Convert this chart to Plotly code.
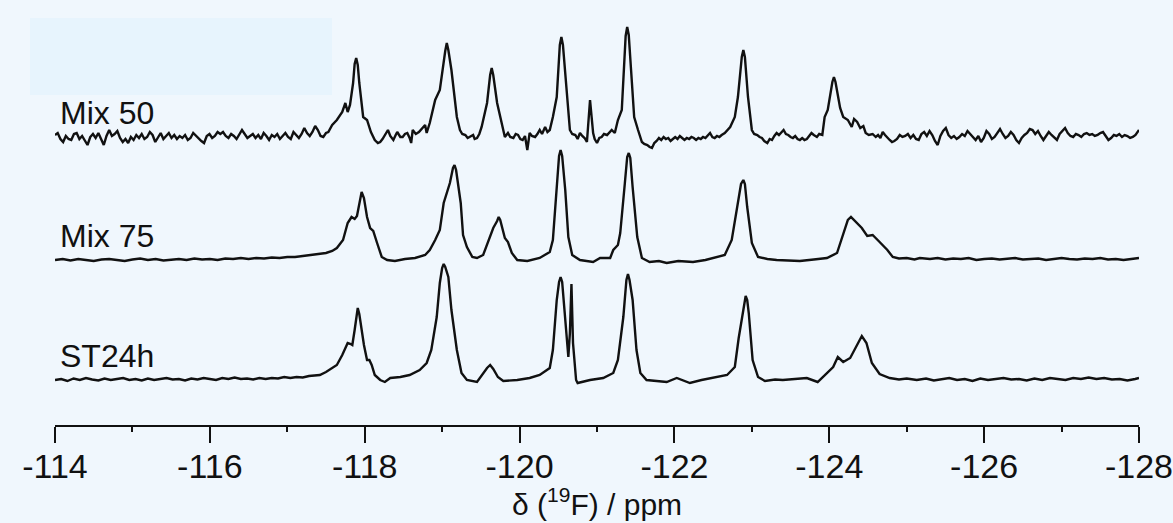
import plotly.graph_objects as go

# ---------------- data (ppm, relative intensity) ----------------
series_names = ["Mix 50", "Mix 75", "ST24h"]
stack_offsets = [288, 165, 45]

mix50 = [
    (-114.000, 2), (-114.035, 4), (-114.070, -2), (-114.105, -5), (-114.140, 1), (-114.175, -2), (-114.210, -3),
    (-114.245, 3), (-114.280, 4), (-114.315, -2), (-114.350, 1), (-114.385, -4), (-114.420, -8), (-114.455, 0),
    (-114.490, 3), (-114.525, -1), (-114.560, 4), (-114.595, -2), (-114.630, -8), (-114.665, 1), (-114.700, 7),
    (-114.735, 1), (-114.770, 3), (-114.805, 6), (-114.840, -1), (-114.875, -5), (-114.910, -2), (-114.945, -6),
    (-114.980, 0), (-115.015, -3), (-115.050, 2), (-115.085, -1), (-115.120, 3), (-115.155, -2), (-115.190, 0),
    (-115.225, 5), (-115.260, 2), (-115.295, -5), (-115.330, 0), (-115.365, 4), (-115.400, -2), (-115.435, 1),
    (-115.470, 4), (-115.505, -1), (-115.540, 2), (-115.575, -2), (-115.610, 1), (-115.645, -1), (-115.680, 2),
    (-115.715, -3), (-115.750, -1), (-115.785, 4), (-115.820, 1), (-115.855, -1), (-115.890, -4), (-115.925, -6),
    (-115.960, 1), (-115.995, 3), (-116.030, -1), (-116.065, 1), (-116.100, 5), (-116.135, 3), (-116.170, 5),
    (-116.205, 1), (-116.240, -1), (-116.275, 3), (-116.310, 1), (-116.345, -2), (-116.380, 2), (-116.415, 7),
    (-116.450, 3), (-116.485, -1), (-116.520, 1), (-116.555, 3), (-116.590, -1), (-116.625, 2), (-116.660, -2),
    (-116.695, 4), (-116.730, 1), (-116.765, -3), (-116.800, 2), (-116.835, 0), (-116.870, 3), (-116.905, -2),
    (-116.940, 1), (-116.975, 4), (-117.010, 0), (-117.045, -2), (-117.080, 5), (-117.115, 2), (-117.150, -1),
    (-117.185, 3), (-117.220, 9), (-117.255, 4), (-117.290, 1), (-117.325, 5), (-117.360, 11), (-117.395, 7),
    (-117.430, 1), (-117.465, 0), (-117.500, 4), (-117.53, 5), (-117.58, 12), (-117.64, 17), (-117.71, 25),
    (-117.75, 34), (-117.78, 25), (-117.81, 32), (-117.85, 54), (-117.87, 73), (-117.89, 79), (-117.91, 72),
    (-117.93, 54), (-117.98, 20), (-118.03, 17), (-118.08, 5), (-118.13, -3), (-118.17, -6), (-118.20, -5),
    (-118.23, -2), (-118.27, 3), (-118.30, 7), (-118.33, 1), (-118.37, -3), (-118.40, 2), (-118.42, 5),
    (-118.46, 0), (-118.49, 0), (-118.52, 3), (-118.55, 4), (-118.58, -1), (-118.60, -6), (-118.62, 7),
    (-118.66, 3), (-118.70, 5), (-118.74, 9), (-118.78, 12), (-118.80, 4), (-118.84, 14), (-118.91, 37),
    (-118.97, 47), (-119.04, 86), (-119.06, 94), (-119.08, 87), (-119.12, 67), (-119.19, 20), (-119.23, 7),
    (-119.26, 3), (-119.30, 2), (-119.33, -1), (-119.36, 0), (-119.40, 2), (-119.42, -2), (-119.45, -1),
    (-119.48, 3), (-119.51, 10), (-119.58, 34), (-119.62, 62), (-119.64, 69), (-119.66, 62), (-119.71, 34),
    (-119.75, 19), (-119.78, 8), (-119.81, 0), (-119.85, 4), (-119.88, 0), (-119.92, -1), (-119.95, 3),
    (-119.98, 2), (-120.01, -2), (-120.04, -3), (-120.07, 1), (-120.10, -13), (-120.13, 4), (-120.16, 1),
    (-120.20, 0), (-120.23, 3), (-120.26, 7), (-120.29, 3), (-120.33, 10), (-120.36, 5), (-120.39, 7),
    (-120.43, 20), (-120.48, 40), (-120.52, 92), (-120.54, 100), (-120.56, 92), (-120.61, 40), (-120.65, 7),
    (-120.68, 3), (-120.72, 2), (-120.75, -2), (-120.78, 4), (-120.81, 1), (-120.84, -1), (-120.87, -5),
    (-120.91, 37), (-120.95, 4), (-120.97, -2), (-121.00, -6), (-121.03, -1), (-121.06, 0), (-121.09, 3),
    (-121.13, 2), (-121.16, 5), (-121.19, 7), (-121.23, 4), (-121.27, 17), (-121.32, 27), (-121.35, 67),
    (-121.37, 101), (-121.39, 110), (-121.41, 102), (-121.44, 67), (-121.48, 20), (-121.53, 7), (-121.58, -5),
    (-121.61, -7), (-121.65, -8), (-121.68, -10), (-121.71, -11), (-121.74, -6), (-121.77, -4), (-121.80, -1),
    (-121.83, -3), (-121.86, 0), (-121.89, -2), (-121.92, -1), (-121.95, -4), (-121.98, -2), (-122.01, 0),
    (-122.04, -2), (-122.07, 1), (-122.10, -1), (-122.13, -3), (-122.16, -1), (-122.19, -2), (-122.22, 0),
    (-122.25, -1), (-122.28, -3), (-122.31, -1), (-122.34, -2), (-122.37, 0), (-122.40, -1), (-122.43, 2),
    (-122.46, 4), (-122.49, 0), (-122.52, -1), (-122.55, 1), (-122.58, 0), (-122.61, 2), (-122.65, 4),
    (-122.72, 10), (-122.78, 20), (-122.82, 40), (-122.87, 80), (-122.89, 87), (-122.91, 80), (-122.95, 40),
    (-123.00, 7), (-123.03, 3), (-123.07, 2), (-123.10, 0), (-123.13, -1), (-123.16, -4), (-123.20, -6),
    (-123.23, -2), (-123.26, -3), (-123.29, 1), (-123.32, 4), (-123.35, 2), (-123.38, 5), (-123.41, 7),
    (-123.44, 3), (-123.47, 2), (-123.50, 0), (-123.53, -1), (-123.56, 1), (-123.59, -2), (-123.62, -3),
    (-123.65, -1), (-123.68, -3), (-123.71, -2), (-123.74, 1), (-123.77, 4), (-123.80, 2), (-123.84, 0),
    (-123.87, 3), (-123.91, 2), (-123.94, 20), (-123.98, 27), (-124.04, 55), (-124.06, 60), (-124.08, 55),
    (-124.14, 29), (-124.18, 20), (-124.24, 17), (-124.29, 10), (-124.32, 18), (-124.36, 15), (-124.40, 9),
    (-124.44, 11), (-124.47, 4), (-124.51, 2), (-124.56, 3), (-124.60, 0), (-124.63, 2), (-124.66, -1),
    (-124.69, 5), (-124.72, 2), (-124.75, -1), (-124.78, -3), (-124.81, -5), (-124.840, -4), (-124.875, -2),
    (-124.910, 2), (-124.945, 0), (-124.980, 1), (-125.015, 3), (-125.050, -1), (-125.085, 2), (-125.120, -2),
    (-125.155, -3), (-125.190, 3), (-125.225, 5), (-125.260, 1), (-125.295, 6), (-125.330, 2), (-125.365, -4),
    (-125.400, -8), (-125.435, 1), (-125.470, 6), (-125.505, 9), (-125.540, 2), (-125.575, -1), (-125.610, 1),
    (-125.645, -2), (-125.680, 0), (-125.715, 3), (-125.750, 1), (-125.785, 6), (-125.820, 3), (-125.855, -1),
    (-125.890, -3), (-125.925, 1), (-125.960, -5), (-125.995, -1), (-126.030, 6), (-126.065, 3), (-126.100, -2),
    (-126.135, 0), (-126.170, 4), (-126.205, 8), (-126.240, 3), (-126.275, -1), (-126.310, 1), (-126.345, 5),
    (-126.380, 2), (-126.415, -3), (-126.450, -6), (-126.485, -1), (-126.520, 2), (-126.555, 4), (-126.590, 8),
    (-126.625, 7), (-126.660, 3), (-126.695, 6), (-126.730, 1), (-126.765, -3), (-126.800, 1), (-126.835, 5),
    (-126.870, 2), (-126.905, -1), (-126.940, -3), (-126.975, 3), (-127.010, 6), (-127.045, 9), (-127.080, 4),
    (-127.115, 1), (-127.150, 0), (-127.185, 3), (-127.220, 2), (-127.255, 0), (-127.290, 3), (-127.325, 4),
    (-127.360, 2), (-127.395, 3), (-127.430, 1), (-127.465, 2), (-127.500, 4), (-127.535, 5), (-127.570, 1),
    (-127.605, -3), (-127.640, -1), (-127.675, 2), (-127.710, 1), (-127.745, 3), (-127.780, 0), (-127.815, 2),
    (-127.850, 1), (-127.885, -1), (-127.920, 0), (-127.955, 2), (-128.000, 7),
]

mix75 = [
    (-114.00, 0), (-114.10, 1), (-114.20, -0.5), (-114.30, 1), (-114.40, 0), (-114.50, -1), (-114.60, 0.5),
    (-114.70, 1), (-114.80, 0), (-114.90, -1), (-115.00, 0.5), (-115.10, 1.5), (-115.20, 0), (-115.30, 1),
    (-115.40, -0.5), (-115.50, 0.5), (-115.60, 1), (-115.70, 0), (-115.80, 1.5), (-115.90, 0.5), (-116.00, 1),
    (-116.10, 0), (-116.20, 1.5), (-116.30, 1), (-116.40, 2), (-116.50, 1), (-116.60, 2), (-116.70, 1.5),
    (-116.80, 2.5), (-116.90, 2), (-117.00, 3), (-117.10, 3), (-117.20, 4), (-117.30, 4.5), (-117.40, 5.5),
    (-117.50, 7), (-117.58, 9), (-117.64, 12), (-117.72, 20), (-117.78, 37), (-117.83, 43), (-117.87, 41),
    (-117.90, 44), (-117.93, 58), (-117.96, 68), (-117.99, 62), (-118.03, 43), (-118.07, 32), (-118.11, 29),
    (-118.16, 17), (-118.22, 3), (-118.29, 0), (-118.39, -1), (-118.52, 1), (-118.65, 2), (-118.78, 5),
    (-118.84, 10), (-118.91, 20), (-118.97, 30), (-119.02, 57), (-119.06, 68), (-119.10, 77), (-119.14, 92),
    (-119.16, 95), (-119.18, 90), (-119.21, 75), (-119.24, 57), (-119.27, 25), (-119.32, 13), (-119.39, 3),
    (-119.45, 2), (-119.53, 5), (-119.59, 17), (-119.66, 32), (-119.71, 39), (-119.73, 43), (-119.75, 40),
    (-119.77, 33), (-119.81, 22), (-119.85, 18), (-119.90, 7), (-119.97, 0), (-120.10, -1), (-120.26, 2),
    (-120.39, 8), (-120.43, 20), (-120.48, 70), (-120.51, 104), (-120.53, 110), (-120.55, 104), (-120.59, 70),
    (-120.63, 23), (-120.68, 5), (-120.78, 0), (-120.95, -2), (-121.04, 2), (-121.17, 2), (-121.21, 10),
    (-121.27, 15), (-121.30, 27), (-121.36, 77), (-121.39, 103), (-121.41, 107), (-121.43, 102), (-121.46, 73),
    (-121.52, 23), (-121.58, 2), (-121.68, -2), (-121.80, -1), (-121.90, -3), (-122.05, -1), (-122.24, -2),
    (-122.40, 0), (-122.50, 2), (-122.65, 5), (-122.74, 20), (-122.81, 53), (-122.86, 76), (-122.89, 80),
    (-122.91, 76), (-122.94, 53), (-123.00, 17), (-123.08, 3), (-123.20, 1), (-123.32, 0), (-123.45, -0.5),
    (-123.62, -1), (-123.80, 0.5), (-123.97, 2), (-124.10, 7), (-124.18, 27), (-124.24, 40), (-124.28, 43),
    (-124.32, 40), (-124.36, 36), (-124.42, 32), (-124.49, 24), (-124.56, 25), (-124.65, 18), (-124.75, 10),
    (-124.82, 3), (-124.90, 1.5), (-125.00, 2), (-125.10, 0.5), (-125.17, 2), (-125.30, 1), (-125.40, 2),
    (-125.50, 0.5), (-125.60, 1.5), (-125.70, 1), (-125.80, 2), (-125.90, 0), (-126.00, 1), (-126.10, 1.5),
    (-126.20, 0.5), (-126.30, 1), (-126.40, 2), (-126.50, 0.5), (-126.60, 1), (-126.70, 1.5), (-126.80, 0),
    (-126.90, 1), (-127.00, 2), (-127.10, 1), (-127.20, 0.5), (-127.30, 1.5), (-127.40, 1), (-127.50, 2),
    (-127.60, 0.5), (-127.70, 1), (-127.80, 0), (-127.90, 1), (-128.00, 2),
]

st24h = [
    (-114.00, 0), (-114.08, 1), (-114.16, -1), (-114.24, 1.5), (-114.32, 0), (-114.40, 2), (-114.48, 0.5),
    (-114.56, -0.5), (-114.64, 1.5), (-114.72, 0), (-114.80, 1), (-114.88, 2), (-114.96, 0), (-115.04, 1),
    (-115.12, -0.5), (-115.20, 1.5), (-115.28, 0), (-115.36, 1), (-115.44, 2), (-115.52, 0.5), (-115.60, 1),
    (-115.68, -0.5), (-115.76, 1.5), (-115.84, 0.5), (-115.92, 2), (-116.00, 1), (-116.08, 0), (-116.16, 2),
    (-116.24, 1), (-116.32, 2.5), (-116.40, 1), (-116.48, 1.5), (-116.56, 0.5), (-116.64, 2), (-116.72, 1),
    (-116.80, 2), (-116.88, 1.5), (-116.96, 3), (-117.04, 2), (-117.12, 3), (-117.20, 2.5), (-117.28, 4),
    (-117.36, 5), (-117.42, 5), (-117.50, 8), (-117.56, 11), (-117.64, 15), (-117.71, 25), (-117.75, 33),
    (-117.78, 37), (-117.82, 36), (-117.84, 35), (-117.87, 50), (-117.90, 70), (-117.91, 72), (-117.93, 66),
    (-117.96, 50), (-117.99, 35), (-118.03, 20), (-118.06, 20), (-118.09, 15), (-118.13, 5), (-118.20, 0),
    (-118.26, -2), (-118.33, 2), (-118.46, 3), (-118.58, 5), (-118.71, 10), (-118.80, 17), (-118.86, 30),
    (-118.93, 63), (-118.97, 97), (-119.00, 112), (-119.02, 116), (-119.04, 113), (-119.08, 103),
    (-119.12, 70), (-119.19, 30), (-119.25, 7), (-119.32, 0), (-119.45, -2), (-119.51, 5), (-119.58, 12),
    (-119.62, 15), (-119.66, 11), (-119.72, 3), (-119.79, -1), (-119.97, 0), (-120.13, 2), (-120.26, 5),
    (-120.39, 12), (-120.43, 30), (-120.48, 80), (-120.51, 98), (-120.53, 103), (-120.55, 98), (-120.57, 80),
    (-120.61, 37), (-120.63, 23), (-120.65, 47), (-120.67, 96), (-120.69, 37), (-120.73, 0), (-120.75, -3),
    (-120.91, 0), (-121.08, 2), (-121.21, 7), (-121.27, 20), (-121.34, 63), (-121.38, 100), (-121.40, 106),
    (-121.42, 100), (-121.46, 80), (-121.51, 30), (-121.56, 7), (-121.64, 0), (-121.78, -1), (-121.90, -2),
    (-122.03, 2), (-122.20, -3), (-122.35, 0), (-122.50, 2), (-122.68, 5), (-122.78, 13), (-122.83, 42),
    (-122.89, 70), (-122.92, 84), (-122.94, 80), (-122.96, 67), (-123.01, 20), (-123.08, 3), (-123.17, -1),
    (-123.30, 0.5), (-123.40, 0), (-123.55, 1), (-123.71, 2), (-123.85, -2), (-123.94, 5), (-124.05, 13),
    (-124.11, 23), (-124.18, 18), (-124.27, 22), (-124.36, 35), (-124.42, 44), (-124.48, 37), (-124.55, 17),
    (-124.65, 6), (-124.78, 2), (-124.90, 0.5), (-125.00, 1.5), (-125.13, 0), (-125.25, 1.5), (-125.35, -0.5),
    (-125.45, 1), (-125.55, 2), (-125.65, 0), (-125.75, 1), (-125.85, -1), (-125.95, 1.5), (-126.05, 0),
    (-126.15, 1), (-126.25, 2), (-126.35, 0.5), (-126.45, 1), (-126.55, -0.5), (-126.65, 1.5), (-126.75, 0),
    (-126.85, 2), (-126.95, 1), (-127.05, 0), (-127.15, 2), (-127.25, 1), (-127.35, 2.5), (-127.45, 1),
    (-127.55, 2), (-127.65, 0.5), (-127.75, 1), (-127.85, -0.5), (-127.95, 1), (-128.00, 2),
]

major_ticks = [-114, -116, -118, -120, -122, -124, -126, -128]
major_labels = ["-114", "-116", "-118", "-120", "-122", "-124", "-126", "-128"]
minor_ticks = [-115, -117, -119, -121, -123, -125, -127]

# ---------------- figure ----------------
FONT = "Liberation Sans, Arial, Helvetica, sans-serif"
BG = "#F0F7FD"
fig = go.Figure()

for name, data, off in zip(series_names, [mix50, mix75, st24h], stack_offsets):
    fig.add_trace(go.Scatter(
        x=[p for p, _ in data],
        y=[v + off for _, v in data],
        mode="lines",
        line=dict(color="#111111", width=2.4),
        name=name,
        showlegend=False,
        hoverinfo="skip",
    ))
    fig.add_annotation(
        x=0.003, xref="paper", y=off + 24, yref="y",
        text=name, showarrow=False, xanchor="left", yanchor="middle",
        font=dict(family=FONT, size=32, color="#111111"),
    )

fig.add_annotation(
    x=0.5, xref="paper", y=-77 / 425, yref="paper",
    text="δ (<sup>19</sup>F) / ppm", showarrow=False,
    xanchor="center", yanchor="middle",
    font=dict(family=FONT, size=30, color="#111111"),
)

fig.add_shape(
    type="rect", xref="paper", yref="y",
    x0=-0.023, x1=0.2555, y0=330, y1=407,
    fillcolor="#E7F4FD", line=dict(width=0), layer="below",
)

fig.update_layout(
    width=1173, height=523,
    margin=dict(l=55, r=34, t=0, b=98),
    paper_bgcolor=BG, plot_bgcolor=BG,
    font=dict(family=FONT, color="#111111"),
    xaxis=dict(
        range=[-114, -128],
        tickmode="array", tickvals=major_ticks, ticktext=major_labels,
        ticks="outside", ticklen=16, tickwidth=1.5, tickcolor="#111111",
        showline=True, linecolor="#111111", linewidth=1.5,
        showgrid=False, zeroline=False,
        ticklabeloverflow="allow", ticklabelstandoff=-6,
        tickfont=dict(family=FONT, size=34, color="#111111"),
        minor=dict(tickmode="array", tickvals=minor_ticks, ticks="outside",
                   ticklen=5, tickwidth=1.5, tickcolor="#111111", showgrid=False),
    ),
    yaxis=dict(range=[0, 425], visible=False, showgrid=False, zeroline=False),
)

fig.write_html(
    "out.html",
    config={"displayModeBar": False},
    post_script="document.body.style.margin='0';document.body.style.overflow='hidden';",
)
